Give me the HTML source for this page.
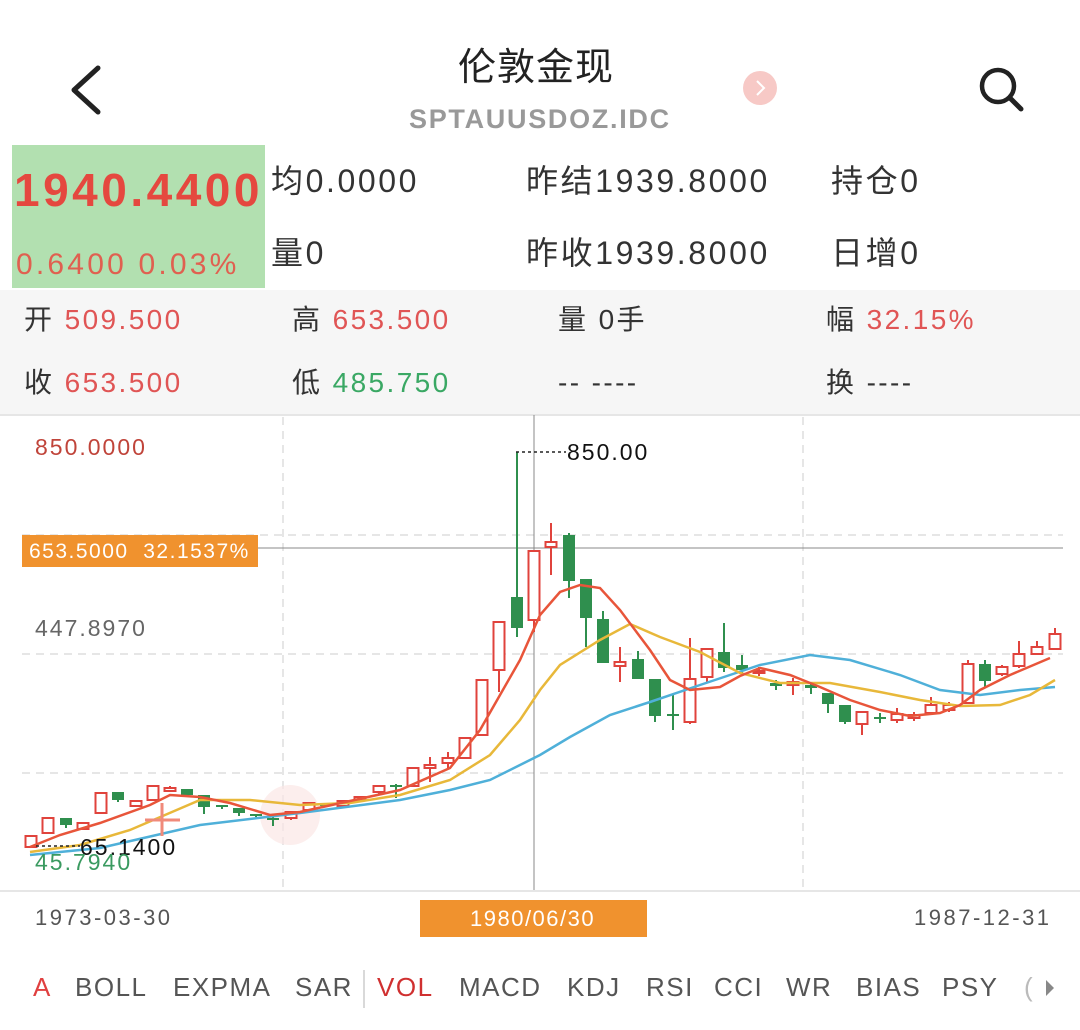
<!DOCTYPE html>
<html><head><meta charset="utf-8">
<style>
body{margin:0;width:1080px;height:1030px;background:#fff;position:relative;overflow:hidden;font-family:"Liberation Sans","Noto Sans CJK SC",sans-serif;}
.t{position:absolute;white-space:nowrap;line-height:1;}
.i{letter-spacing:2.6px}
.r{letter-spacing:2.4px}
.tab{letter-spacing:1.5px}
</style></head><body>
<svg width="1080" height="1030" style="position:absolute;left:0;top:0">
<polyline points="98,68 74,90 98,112" fill="none" stroke="#222" stroke-width="5" stroke-linecap="round" stroke-linejoin="round"/>
<circle cx="998" cy="86" r="16" fill="none" stroke="#222" stroke-width="4.5"/>
<line x1="1010" y1="98" x2="1021" y2="109" stroke="#222" stroke-width="5" stroke-linecap="round"/>
<circle cx="760" cy="88" r="17" fill="#f7c9c6"/>
<polyline points="757,81 764,88 757,95" fill="none" stroke="#fff" stroke-width="2"/>
<rect x="12" y="145" width="253" height="143" fill="#b2e0b0"/>
<rect x="0" y="290" width="1080" height="125" fill="#f6f6f6"/>
<line x1="0" y1="415" x2="1080" y2="415" stroke="#e6e6e6" stroke-width="2"/>
<line x1="0" y1="891" x2="1080" y2="891" stroke="#e6e6e6" stroke-width="2"/>
<g stroke="#ddd" stroke-width="1.5" stroke-dasharray="8,6" fill="none">
<line x1="22" y1="535" x2="1063" y2="535"/><line x1="22" y1="654" x2="1063" y2="654"/><line x1="22" y1="773" x2="1063" y2="773"/>
<line x1="283" y1="417" x2="283" y2="889"/><line x1="803" y1="417" x2="803" y2="889"/>
</g>
<line x1="534" y1="415" x2="534" y2="890" stroke="#888" stroke-width="1"/>
<line x1="258" y1="548" x2="1063" y2="548" stroke="#888" stroke-width="1"/>
<circle cx="290" cy="815" r="30" fill="#fbe7e5" opacity="0.7"/>
<g id="c"></g>
<polyline fill="none" stroke="#4fb0d9" stroke-width="2.5" points="30,855 100,848 200,825 300,813 400,800 450,790 490,780 520,765 540,755 570,737 610,715 650,702 700,685 760,665 810,655 850,660 900,675 940,690 980,695 1020,690 1055,687"/>
<polyline fill="none" stroke="#e8b83a" stroke-width="2.5" points="30,852 80,845 130,830 200,800 250,800 300,805 350,803 400,795 450,780 490,755 520,720 540,690 560,665 600,640 630,624 660,637 700,652 740,673 780,683 830,683 880,692 920,700 960,706 1000,705 1030,695 1055,680"/>
<polyline fill="none" stroke="#e8553a" stroke-width="2.5" points="30,847 60,835 100,823 150,805 170,795 200,797 230,803 270,815 300,812 350,801 400,790 450,768 480,730 500,695 520,660 540,615 560,592 580,585 600,588 620,610 650,650 670,680 690,690 720,687 740,676 760,668 790,675 820,687 850,700 880,710 910,716 940,713 960,705 980,690 1010,675 1050,658"/>
<line x1="145" y1="820" x2="180" y2="820" stroke="#f08a7a" stroke-width="3"/><line x1="162" y1="803" x2="162" y2="836" stroke="#f08a7a" stroke-width="3"/>
<line x1="516" y1="452" x2="566" y2="452" stroke="#222" stroke-width="1.5" stroke-dasharray="3,3"/>
<line x1="36" y1="846" x2="80" y2="846" stroke="#222" stroke-width="1.5" stroke-dasharray="3,3"/>
<rect x="22" y="535" width="236" height="32" fill="#f0922e"/>
<rect x="420" y="900" width="227" height="37" fill="#f0922e"/>
<line x1="364" y1="970" x2="364" y2="1008" stroke="#ccc" stroke-width="1.5"/>
<polygon points="1046,980 1054,988 1046,996" fill="#888"/>
</svg>
<script>
var d=[[31,836,847,836,847,'r'],[48,818,833,818,833,'r'],[66,818,825,818,828,'g'],[83,823,829,823,829,'r'],[101,793,813,793,813,'r'],[118,792,800,792,802,'g'],[136,801,806,801,806,'r'],[153,786,800,786,800,'r'],[170,788,791,786,791,'r'],[187,789,795,789,797,'g'],[204,795,807,795,814,'g'],[222,805,807,805,809,'g'],[239,808,813,808,816,'g'],[256,814,816,814,817,'g'],[273,818,820,815,826,'g'],[291,812,818,812,820,'r'],[309,803,810,803,812,'r'],[326,803,806,803,807,'g'],[343,801,806,801,806,'r'],[360,797,800,797,800,'r'],[379,786,792,786,795,'r'],[396,785,787,784,798,'g'],[413,768,786,768,786,'r'],[430,765,768,757,782,'r'],[448,758,763,752,768,'r'],[465,738,758,738,758,'r'],[482,680,735,680,735,'r'],[499,622,670,622,692,'r'],[517,597,628,452,637,'g'],[534,551,620,551,632,'r'],[551,542,547,523,575,'r'],[569,535,581,533,598,'g'],[586,579,618,579,647,'g'],[603,619,663,611,663,'g'],[620,662,666,647,682,'r'],[638,659,679,651,679,'g'],[655,679,716,679,722,'g'],[673,714,716,695,730,'g'],[690,679,722,638,724,'r'],[707,649,677,649,683,'r'],[724,652,668,623,672,'g'],[742,665,670,655,673,'g'],[759,671,673,667,676,'r'],[776,683,686,680,690,'g'],[793,682,685,678,695,'r'],[811,685,688,682,694,'g'],[828,693,704,693,713,'g'],[845,705,722,705,724,'g'],[862,712,724,712,735,'r'],[880,717,719,713,723,'g'],[897,714,720,708,723,'r'],[914,715,718,712,721,'r'],[931,705,713,697,715,'r'],[949,705,710,702,712,'r'],[968,664,703,660,703,'r'],[985,664,681,660,688,'g'],[1002,667,674,665,676,'r'],[1019,654,666,641,668,'r'],[1037,647,654,641,654,'r'],[1055,634,649,628,650,'r']];
var s='';d.forEach(function(c){var col=c[5]=='r'?'#e0433c':'#2f8f4e';
s+='<line x1="'+c[0]+'" y1="'+c[3]+'" x2="'+c[0]+'" y2="'+c[4]+'" stroke="'+col+'" stroke-width="2"/>';
var h=Math.max(c[2]-c[1],2);
if(c[5]=='r')s+='<rect x="'+(c[0]-5.5)+'" y="'+c[1]+'" width="11" height="'+h+'" fill="#fff" stroke="'+col+'" stroke-width="2"/>';
else s+='<rect x="'+(c[0]-6)+'" y="'+c[1]+'" width="12" height="'+h+'" fill="'+col+'"/>';});
document.getElementById('c').innerHTML=s;
</script>
<div class="t" style="left:458px;top:49px;font-size:38px;color:#222;letter-spacing:1px">伦敦金现</div>
<div class="t" style="left:409px;top:106px;font-size:27px;color:#999;font-weight:bold;letter-spacing:1.7px">SPTAUUSDOZ.IDC</div>
<div class="t" style="left:14px;top:167px;font-size:46px;color:#e5483f;font-weight:bold;letter-spacing:3.5px">1940.4400</div>
<div class="t" style="left:16px;top:250px;font-size:30px;color:#e06050;letter-spacing:3.2px">0.6400 0.03%</div>
<div class="t i" style="left:271px;top:165px;font-size:32px;color:#333;">均0.0000</div>
<div class="t i" style="left:271px;top:237px;font-size:32px;color:#333;">量0</div>
<div class="t i" style="left:526px;top:165px;font-size:32px;color:#333;">昨结1939.8000</div>
<div class="t i" style="left:526px;top:237px;font-size:32px;color:#333;">昨收1939.8000</div>
<div class="t i" style="left:831px;top:165px;font-size:32px;color:#333;">持仓0</div>
<div class="t i" style="left:831px;top:237px;font-size:32px;color:#333;">日增0</div>
<div class="t r" style="left:24px;top:306px;font-size:28px;color:#333;">开 <span style="color:#e05555">509.500</span></div>
<div class="t r" style="left:24px;top:369px;font-size:28px;color:#333;">收 <span style="color:#e05555">653.500</span></div>
<div class="t r" style="left:292px;top:306px;font-size:28px;color:#333;">高 <span style="color:#e05555">653.500</span></div>
<div class="t r" style="left:292px;top:369px;font-size:28px;color:#333;">低 <span style="color:#3aa864">485.750</span></div>
<div class="t r" style="left:558px;top:306px;font-size:28px;color:#333;">量 0手</div>
<div class="t r" style="left:558px;top:369px;font-size:28px;color:#333;">-- ----</div>
<div class="t r" style="left:826px;top:306px;font-size:28px;color:#333;">幅 <span style="color:#e05555">32.15%</span></div>
<div class="t r" style="left:826px;top:369px;font-size:28px;color:#333;">换 ----</div>
<div class="t" style="left:35px;top:436px;font-size:23px;color:#c0443a;letter-spacing:2px">850.0000</div>
<div class="t" style="left:35px;top:617px;font-size:23px;color:#666;letter-spacing:2px">447.8970</div>
<div class="t" style="left:29px;top:541px;font-size:21px;color:#fff;letter-spacing:1.5px">653.5000&nbsp; 32.1537%</div>
<div class="t" style="left:567px;top:441px;font-size:23px;color:#111;letter-spacing:2px">850.00</div>
<div class="t" style="left:80px;top:836px;font-size:23px;color:#111;letter-spacing:2px">65.1400</div>
<div class="t" style="left:35px;top:851px;font-size:23px;color:#3a9a60;letter-spacing:2px">45.7940</div>
<div class="t" style="left:35px;top:907px;font-size:22px;color:#555;letter-spacing:2.5px">1973-03-30</div>
<div class="t" style="left:470px;top:908px;font-size:22px;color:#fff;letter-spacing:1.5px">1980/06/30</div>
<div class="t" style="left:914px;top:907px;font-size:22px;color:#555;letter-spacing:2.5px">1987-12-31</div>
<div class="t" style="left:33px;top:974px;font-size:26px;color:#e04040;">A</div>
<div class="t tab" style="left:75px;top:974px;font-size:26px;color:#555;">BOLL</div>
<div class="t tab" style="left:173px;top:974px;font-size:26px;color:#555;">EXPMA</div>
<div class="t tab" style="left:295px;top:974px;font-size:26px;color:#555;">SAR</div>
<div class="t tab" style="left:377px;top:974px;font-size:26px;color:#d03030;">VOL</div>
<div class="t tab" style="left:459px;top:974px;font-size:26px;color:#555;">MACD</div>
<div class="t tab" style="left:567px;top:974px;font-size:26px;color:#555;">KDJ</div>
<div class="t tab" style="left:646px;top:974px;font-size:26px;color:#555;">RSI</div>
<div class="t tab" style="left:714px;top:974px;font-size:26px;color:#555;">CCI</div>
<div class="t tab" style="left:786px;top:974px;font-size:26px;color:#555;">WR</div>
<div class="t tab" style="left:856px;top:974px;font-size:26px;color:#555;">BIAS</div>
<div class="t tab" style="left:942px;top:974px;font-size:26px;color:#555;">PSY</div>
<div class="t" style="left:1024px;top:974px;font-size:26px;color:#bbb;">(</div>
</body></html>
